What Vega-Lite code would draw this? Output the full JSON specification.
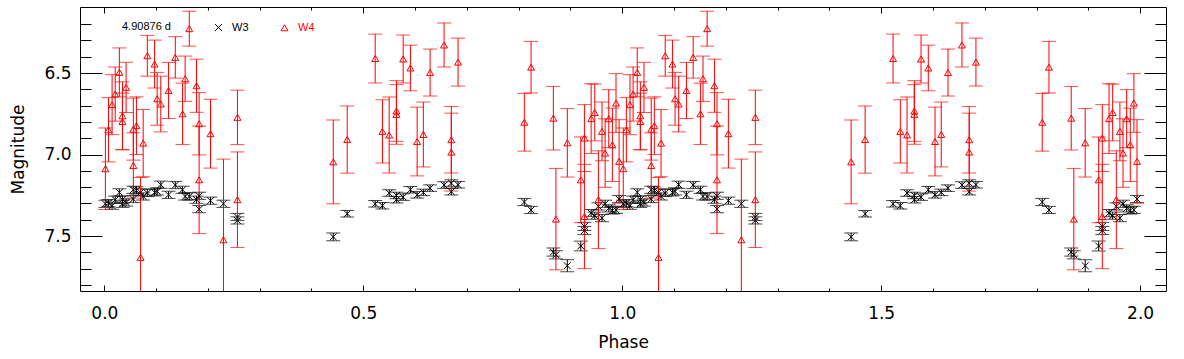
{
"$schema":"https://vega.github.io/schema/vega-lite/v6.json",
"autosize":{"type":"none"},
"padding":{"left":80,"top":7,"right":18,"bottom":68},
"width":1086,"height":284,
"background":"white",
"config":{"view":{"stroke":"black","strokeWidth":1},"font":"DejaVu Sans"},
"data":{"values":[
{"p":0.002,"m":7.302,"e":0.022,"b":"W3"},{"p":0.008,"m":7.298,"e":0.022,"b":"W3"},{"p":0.015,"m":7.314,"e":0.022,"b":"W3"},{"p":0.021,"m":7.277,"e":0.022,"b":"W3"},{"p":0.029,"m":7.232,"e":0.022,"b":"W3"},{"p":0.035,"m":7.277,"e":0.022,"b":"W3"},{"p":0.035,"m":7.302,"e":0.022,"b":"W3"},{"p":0.042,"m":7.294,"e":0.022,"b":"W3"},{"p":0.056,"m":7.216,"e":0.022,"b":"W3"},{"p":0.056,"m":7.273,"e":0.022,"b":"W3"},{"p":0.062,"m":7.220,"e":0.022,"b":"W3"},{"p":0.070,"m":7.232,"e":0.022,"b":"W3"},{"p":0.075,"m":7.257,"e":0.022,"b":"W3"},{"p":0.083,"m":7.236,"e":0.022,"b":"W3"},{"p":0.097,"m":7.232,"e":0.022,"b":"W3"},{"p":0.102,"m":7.226,"e":0.022,"b":"W3"},{"p":0.109,"m":7.185,"e":0.022,"b":"W3"},{"p":0.124,"m":7.247,"e":0.022,"b":"W3"},{"p":0.137,"m":7.187,"e":0.022,"b":"W3"},{"p":0.151,"m":7.216,"e":0.022,"b":"W3"},{"p":0.156,"m":7.257,"e":0.022,"b":"W3"},{"p":0.164,"m":7.257,"e":0.022,"b":"W3"},{"p":0.178,"m":7.277,"e":0.022,"b":"W3"},{"p":0.183,"m":7.253,"e":0.022,"b":"W3"},{"p":0.183,"m":7.335,"e":0.022,"b":"W3"},{"p":0.205,"m":7.283,"e":0.022,"b":"W3"},{"p":0.230,"m":7.302,"e":0.022,"b":"W3"},{"p":0.257,"m":7.383,"e":0.022,"b":"W3"},{"p":0.257,"m":7.404,"e":0.022,"b":"W3"},
{"p":0.442,"m":7.505,"e":0.024,"b":"W3"},{"p":0.469,"m":7.363,"e":0.020,"b":"W3"},{"p":0.523,"m":7.302,"e":0.020,"b":"W3"},{"p":0.537,"m":7.314,"e":0.020,"b":"W3"},{"p":0.550,"m":7.236,"e":0.020,"b":"W3"},{"p":0.564,"m":7.251,"e":0.020,"b":"W3"},{"p":0.564,"m":7.277,"e":0.020,"b":"W3"},{"p":0.577,"m":7.261,"e":0.020,"b":"W3"},{"p":0.591,"m":7.216,"e":0.020,"b":"W3"},{"p":0.604,"m":7.247,"e":0.020,"b":"W3"},{"p":0.616,"m":7.232,"e":0.020,"b":"W3"},{"p":0.629,"m":7.206,"e":0.020,"b":"W3"},{"p":0.656,"m":7.187,"e":0.020,"b":"W3"},{"p":0.670,"m":7.175,"e":0.020,"b":"W3"},{"p":0.670,"m":7.228,"e":0.020,"b":"W3"},{"p":0.683,"m":7.185,"e":0.020,"b":"W3"},
{"p":0.811,"m":7.291,"e":0.022,"b":"W3"},{"p":0.824,"m":7.340,"e":0.022,"b":"W3"},{"p":0.867,"m":7.598,"e":0.025,"b":"W3"},{"p":0.872,"m":7.615,"e":0.025,"b":"W3"},{"p":0.894,"m":7.682,"e":0.037,"b":"W3"},{"p":0.920,"m":7.561,"e":0.030,"b":"W3"},{"p":0.927,"m":7.441,"e":0.025,"b":"W3"},{"p":0.927,"m":7.466,"e":0.025,"b":"W3"},{"p":0.940,"m":7.359,"e":0.022,"b":"W3"},{"p":0.947,"m":7.375,"e":0.022,"b":"W3"},{"p":0.954,"m":7.318,"e":0.022,"b":"W3"},{"p":0.961,"m":7.390,"e":0.022,"b":"W3"},{"p":0.967,"m":7.302,"e":0.022,"b":"W3"},{"p":0.974,"m":7.330,"e":0.022,"b":"W3"},{"p":0.981,"m":7.343,"e":0.022,"b":"W3"},{"p":0.988,"m":7.339,"e":0.022,"b":"W3"},{"p":0.994,"m":7.273,"e":0.022,"b":"W3"},
{"p":1.002,"m":7.302,"e":0.022,"b":"W3"},{"p":1.008,"m":7.298,"e":0.022,"b":"W3"},{"p":1.015,"m":7.314,"e":0.022,"b":"W3"},{"p":1.021,"m":7.277,"e":0.022,"b":"W3"},{"p":1.029,"m":7.232,"e":0.022,"b":"W3"},{"p":1.035,"m":7.277,"e":0.022,"b":"W3"},{"p":1.035,"m":7.302,"e":0.022,"b":"W3"},{"p":1.042,"m":7.294,"e":0.022,"b":"W3"},{"p":1.056,"m":7.216,"e":0.022,"b":"W3"},{"p":1.056,"m":7.273,"e":0.022,"b":"W3"},{"p":1.062,"m":7.220,"e":0.022,"b":"W3"},{"p":1.070,"m":7.232,"e":0.022,"b":"W3"},{"p":1.075,"m":7.257,"e":0.022,"b":"W3"},{"p":1.083,"m":7.236,"e":0.022,"b":"W3"},{"p":1.097,"m":7.232,"e":0.022,"b":"W3"},{"p":1.102,"m":7.226,"e":0.022,"b":"W3"},{"p":1.109,"m":7.185,"e":0.022,"b":"W3"},{"p":1.124,"m":7.247,"e":0.022,"b":"W3"},{"p":1.137,"m":7.187,"e":0.022,"b":"W3"},{"p":1.151,"m":7.216,"e":0.022,"b":"W3"},{"p":1.156,"m":7.257,"e":0.022,"b":"W3"},{"p":1.164,"m":7.257,"e":0.022,"b":"W3"},{"p":1.178,"m":7.277,"e":0.022,"b":"W3"},{"p":1.183,"m":7.253,"e":0.022,"b":"W3"},{"p":1.183,"m":7.335,"e":0.022,"b":"W3"},{"p":1.205,"m":7.283,"e":0.022,"b":"W3"},{"p":1.230,"m":7.302,"e":0.022,"b":"W3"},{"p":1.257,"m":7.383,"e":0.022,"b":"W3"},{"p":1.257,"m":7.404,"e":0.022,"b":"W3"},
{"p":1.442,"m":7.505,"e":0.024,"b":"W3"},{"p":1.469,"m":7.363,"e":0.020,"b":"W3"},{"p":1.523,"m":7.302,"e":0.020,"b":"W3"},{"p":1.537,"m":7.314,"e":0.020,"b":"W3"},{"p":1.550,"m":7.236,"e":0.020,"b":"W3"},{"p":1.564,"m":7.251,"e":0.020,"b":"W3"},{"p":1.564,"m":7.277,"e":0.020,"b":"W3"},{"p":1.577,"m":7.261,"e":0.020,"b":"W3"},{"p":1.591,"m":7.216,"e":0.020,"b":"W3"},{"p":1.604,"m":7.247,"e":0.020,"b":"W3"},{"p":1.616,"m":7.232,"e":0.020,"b":"W3"},{"p":1.629,"m":7.206,"e":0.020,"b":"W3"},{"p":1.656,"m":7.187,"e":0.020,"b":"W3"},{"p":1.670,"m":7.175,"e":0.020,"b":"W3"},{"p":1.670,"m":7.228,"e":0.020,"b":"W3"},{"p":1.683,"m":7.185,"e":0.020,"b":"W3"},
{"p":1.811,"m":7.291,"e":0.022,"b":"W3"},{"p":1.824,"m":7.340,"e":0.022,"b":"W3"},{"p":1.867,"m":7.598,"e":0.025,"b":"W3"},{"p":1.872,"m":7.615,"e":0.025,"b":"W3"},{"p":1.894,"m":7.682,"e":0.037,"b":"W3"},{"p":1.920,"m":7.561,"e":0.030,"b":"W3"},{"p":1.927,"m":7.441,"e":0.025,"b":"W3"},{"p":1.927,"m":7.466,"e":0.025,"b":"W3"},{"p":1.940,"m":7.359,"e":0.022,"b":"W3"},{"p":1.947,"m":7.375,"e":0.022,"b":"W3"},{"p":1.954,"m":7.318,"e":0.022,"b":"W3"},{"p":1.961,"m":7.390,"e":0.022,"b":"W3"},{"p":1.967,"m":7.302,"e":0.022,"b":"W3"},{"p":1.974,"m":7.330,"e":0.022,"b":"W3"},{"p":1.981,"m":7.343,"e":0.022,"b":"W3"},{"p":1.988,"m":7.339,"e":0.022,"b":"W3"},{"p":1.994,"m":7.273,"e":0.022,"b":"W3"},
{"p":0.002,"m":7.087,"e":0.250,"b":"W4"},{"p":0.008,"m":6.848,"e":0.197,"b":"W4"},{"p":0.015,"m":6.694,"e":0.184,"b":"W4"},{"p":0.021,"m":6.629,"e":0.166,"b":"W4"},{"p":0.029,"m":6.496,"e":0.150,"b":"W4"},{"p":0.035,"m":6.762,"e":0.208,"b":"W4"},{"p":0.035,"m":6.797,"e":0.174,"b":"W4"},{"p":0.042,"m":6.588,"e":0.154,"b":"W4"},{"p":0.056,"m":6.844,"e":0.190,"b":"W4"},{"p":0.056,"m":7.067,"e":0.200,"b":"W4"},{"p":0.062,"m":6.823,"e":0.177,"b":"W4"},{"p":0.070,"m":7.631,"e":0.490,"b":"W4"},{"p":0.075,"m":6.930,"e":0.206,"b":"W4"},{"p":0.083,"m":6.394,"e":0.125,"b":"W4"},{"p":0.097,"m":6.445,"e":0.147,"b":"W4"},{"p":0.102,"m":6.658,"e":0.162,"b":"W4"},{"p":0.109,"m":6.690,"e":0.171,"b":"W4"},{"p":0.124,"m":6.607,"e":0.172,"b":"W4"},{"p":0.137,"m":6.404,"e":0.127,"b":"W4"},{"p":0.151,"m":6.750,"e":0.188,"b":"W4"},{"p":0.156,"m":6.535,"e":0.139,"b":"W4"},{"p":0.164,"m":6.228,"e":0.107,"b":"W4"},{"p":0.178,"m":6.578,"e":0.163,"b":"W4"},{"p":0.183,"m":6.811,"e":0.191,"b":"W4"},{"p":0.183,"m":7.155,"e":0.330,"b":"W4"},{"p":0.205,"m":6.872,"e":0.211,"b":"W4"},{"p":0.230,"m":7.523,"e":0.495,"b":"W4"},{"p":0.257,"m":6.772,"e":0.167,"b":"W4"},{"p":0.257,"m":7.277,"e":0.293,"b":"W4"},
{"p":0.442,"m":7.045,"e":0.257,"b":"W4"},{"p":0.469,"m":6.908,"e":0.206,"b":"W4"},{"p":0.523,"m":6.411,"e":0.150,"b":"W4"},{"p":0.537,"m":6.858,"e":0.194,"b":"W4"},{"p":0.550,"m":6.880,"e":0.233,"b":"W4"},{"p":0.564,"m":6.733,"e":0.186,"b":"W4"},{"p":0.564,"m":6.754,"e":0.183,"b":"W4"},{"p":0.577,"m":6.414,"e":0.147,"b":"W4"},{"p":0.591,"m":6.469,"e":0.140,"b":"W4"},{"p":0.604,"m":6.920,"e":0.211,"b":"W4"},{"p":0.616,"m":6.877,"e":0.199,"b":"W4"},{"p":0.629,"m":6.497,"e":0.144,"b":"W4"},{"p":0.656,"m":6.328,"e":0.135,"b":"W4"},{"p":0.670,"m":6.909,"e":0.204,"b":"W4"},{"p":0.670,"m":6.985,"e":0.239,"b":"W4"},{"p":0.683,"m":6.433,"e":0.147,"b":"W4"},
{"p":0.811,"m":6.802,"e":0.177,"b":"W4"},{"p":0.824,"m":6.464,"e":0.158,"b":"W4"},{"p":0.867,"m":6.777,"e":0.195,"b":"W4"},{"p":0.872,"m":7.396,"e":0.311,"b":"W4"},{"p":0.894,"m":6.928,"e":0.210,"b":"W4"},{"p":0.920,"m":7.155,"e":0.263,"b":"W4"},{"p":0.927,"m":6.899,"e":0.205,"b":"W4"},{"p":0.927,"m":7.380,"e":0.320,"b":"W4"},{"p":0.940,"m":6.780,"e":0.214,"b":"W4"},{"p":0.947,"m":6.742,"e":0.174,"b":"W4"},{"p":0.954,"m":7.277,"e":0.300,"b":"W4"},{"p":0.961,"m":6.858,"e":0.180,"b":"W4"},{"p":0.967,"m":6.991,"e":0.210,"b":"W4"},{"p":0.974,"m":6.780,"e":0.178,"b":"W4"},{"p":0.981,"m":6.940,"e":0.225,"b":"W4"},{"p":0.988,"m":6.684,"e":0.180,"b":"W4"},{"p":0.994,"m":7.042,"e":0.256,"b":"W4"},
{"p":1.002,"m":7.087,"e":0.250,"b":"W4"},{"p":1.008,"m":6.848,"e":0.197,"b":"W4"},{"p":1.015,"m":6.694,"e":0.184,"b":"W4"},{"p":1.021,"m":6.629,"e":0.166,"b":"W4"},{"p":1.029,"m":6.496,"e":0.150,"b":"W4"},{"p":1.035,"m":6.762,"e":0.208,"b":"W4"},{"p":1.035,"m":6.797,"e":0.174,"b":"W4"},{"p":1.042,"m":6.588,"e":0.154,"b":"W4"},{"p":1.056,"m":6.844,"e":0.190,"b":"W4"},{"p":1.056,"m":7.067,"e":0.200,"b":"W4"},{"p":1.062,"m":6.823,"e":0.177,"b":"W4"},{"p":1.070,"m":7.631,"e":0.490,"b":"W4"},{"p":1.075,"m":6.930,"e":0.206,"b":"W4"},{"p":1.083,"m":6.394,"e":0.125,"b":"W4"},{"p":1.097,"m":6.445,"e":0.147,"b":"W4"},{"p":1.102,"m":6.658,"e":0.162,"b":"W4"},{"p":1.109,"m":6.690,"e":0.171,"b":"W4"},{"p":1.124,"m":6.607,"e":0.172,"b":"W4"},{"p":1.137,"m":6.404,"e":0.127,"b":"W4"},{"p":1.151,"m":6.750,"e":0.188,"b":"W4"},{"p":1.156,"m":6.535,"e":0.139,"b":"W4"},{"p":1.164,"m":6.228,"e":0.107,"b":"W4"},{"p":1.178,"m":6.578,"e":0.163,"b":"W4"},{"p":1.183,"m":6.811,"e":0.191,"b":"W4"},{"p":1.183,"m":7.155,"e":0.330,"b":"W4"},{"p":1.205,"m":6.872,"e":0.211,"b":"W4"},{"p":1.230,"m":7.523,"e":0.495,"b":"W4"},{"p":1.257,"m":6.772,"e":0.167,"b":"W4"},{"p":1.257,"m":7.277,"e":0.293,"b":"W4"},
{"p":1.442,"m":7.045,"e":0.257,"b":"W4"},{"p":1.469,"m":6.908,"e":0.206,"b":"W4"},{"p":1.523,"m":6.411,"e":0.150,"b":"W4"},{"p":1.537,"m":6.858,"e":0.194,"b":"W4"},{"p":1.550,"m":6.880,"e":0.233,"b":"W4"},{"p":1.564,"m":6.733,"e":0.186,"b":"W4"},{"p":1.564,"m":6.754,"e":0.183,"b":"W4"},{"p":1.577,"m":6.414,"e":0.147,"b":"W4"},{"p":1.591,"m":6.469,"e":0.140,"b":"W4"},{"p":1.604,"m":6.920,"e":0.211,"b":"W4"},{"p":1.616,"m":6.877,"e":0.199,"b":"W4"},{"p":1.629,"m":6.497,"e":0.144,"b":"W4"},{"p":1.656,"m":6.328,"e":0.135,"b":"W4"},{"p":1.670,"m":6.909,"e":0.204,"b":"W4"},{"p":1.670,"m":6.985,"e":0.239,"b":"W4"},{"p":1.683,"m":6.433,"e":0.147,"b":"W4"},
{"p":1.811,"m":6.802,"e":0.177,"b":"W4"},{"p":1.824,"m":6.464,"e":0.158,"b":"W4"},{"p":1.867,"m":6.777,"e":0.195,"b":"W4"},{"p":1.872,"m":7.396,"e":0.311,"b":"W4"},{"p":1.894,"m":6.928,"e":0.210,"b":"W4"},{"p":1.920,"m":7.155,"e":0.263,"b":"W4"},{"p":1.927,"m":6.899,"e":0.205,"b":"W4"},{"p":1.927,"m":7.380,"e":0.320,"b":"W4"},{"p":1.940,"m":6.780,"e":0.214,"b":"W4"},{"p":1.947,"m":6.742,"e":0.174,"b":"W4"},{"p":1.954,"m":7.277,"e":0.300,"b":"W4"},{"p":1.961,"m":6.858,"e":0.180,"b":"W4"},{"p":1.967,"m":6.991,"e":0.210,"b":"W4"},{"p":1.974,"m":6.780,"e":0.178,"b":"W4"},{"p":1.981,"m":6.940,"e":0.225,"b":"W4"},{"p":1.988,"m":6.684,"e":0.180,"b":"W4"},{"p":1.994,"m":7.042,"e":0.256,"b":"W4"}
]},
"resolve":{"axis":{"x":"independent","y":"independent"},"legend":{"color":"independent","shape":"independent"}},
"layer":[
{"mark":{"type":"errorbar","ticks":{"size":14},"clip":true,"thickness":1},
 "encoding":{
  "x":{"field":"p","type":"quantitative","scale":{"domain":[-0.047,2.05],"nice":false,"zero":false},
   "axis":{"orient":"bottom","title":"Phase","values":[0,0.1,0.2,0.3,0.4,0.5,0.6,0.7,0.8,0.9,1,1.1,1.2,1.3,1.4,1.5,1.6,1.7,1.8,1.9,2],
    "labelExpr":"abs(datum.value*2-round(datum.value*2))<0.01 ? format(datum.value,'.1f') : ''",
    "tickSize":{"condition":{"test":"abs(datum.value*2-round(datum.value*2))<0.01","value":-6},"value":-3},
    "tickColor":"black","domain":false,"grid":false,"labelOverlap":false,"labelFlush":false,
    "labelFont":"DejaVu Sans","labelFontSize":17,"labelColor":"black","labelPadding":20,
    "titleFont":"DejaVu Sans","titleFontSize":17,"titleFontWeight":"normal","titleColor":"black","titlePadding":10}},
  "y":{"field":"m","type":"quantitative","scale":{"domain":[6.095,7.837],"reverse":true,"nice":false,"zero":false},
   "axis":{"orient":"left","title":"Magnitude","values":[6.2,6.3,6.4,6.5,6.6,6.7,6.8,6.9,7.0,7.1,7.2,7.3,7.4,7.5,7.6,7.7,7.8],
    "labelExpr":"abs(datum.value*2-round(datum.value*2))<0.01 ? format(datum.value,'.1f') : ''",
    "tickSize":{"condition":{"test":"abs(datum.value*2-round(datum.value*2))<0.01","value":-22},"value":-11},
    "tickColor":"black","domain":false,"grid":false,"labelOverlap":false,"labelFlush":false,
    "labelFont":"DejaVu Sans","labelFontSize":17,"labelColor":"black","labelPadding":31,"labelBaseline":"middle",
    "titleFont":"DejaVu Sans","titleFontSize":17,"titleFontWeight":"normal","titleColor":"black","titlePadding":16}},
  "yError":{"field":"e"},
  "color":{"field":"b","type":"nominal","scale":{"domain":["W3","W4"],"range":["#000000","#ff0000"]},"legend":null}
 }},
{"mark":{"type":"point","filled":false,"size":48,"strokeWidth":1,"opacity":1,"clip":true},
 "encoding":{
  "x":{"field":"p","type":"quantitative","scale":{"domain":[-0.047,2.05],"nice":false,"zero":false},
   "axis":{"orient":"top","title":null,"labels":false,"domain":false,"grid":false,"tickColor":"black","values":[0,0.1,0.2,0.3,0.4,0.5,0.6,0.7,0.8,0.9,1,1.1,1.2,1.3,1.4,1.5,1.6,1.7,1.8,1.9,2],
    "tickSize":{"condition":{"test":"abs(datum.value*2-round(datum.value*2))<0.01","value":-6},"value":-3}}},
  "y":{"field":"m","type":"quantitative","scale":{"domain":[6.095,7.837],"reverse":true,"nice":false,"zero":false},
   "axis":{"orient":"right","title":null,"labels":false,"domain":false,"grid":false,"tickColor":"black","values":[6.2,6.3,6.4,6.5,6.6,6.7,6.8,6.9,7.0,7.1,7.2,7.3,7.4,7.5,7.6,7.7,7.8],
    "tickSize":{"condition":{"test":"abs(datum.value*2-round(datum.value*2))<0.01","value":-22},"value":-11}}},
  "color":{"field":"b","type":"nominal","scale":{"domain":["W3","W4"],"range":["#000000","#ff0000"]},
   "legend":{"orient":"none","legendX":42,"legendY":15,"direction":"horizontal","title":"4.90876 d","titleOrient":"left","titlePadding":42,
    "titleFont":"Liberation Sans","titleFontSize":11,"titleFontWeight":"normal","titleColor":"black","titleBaseline":"middle",
    "labelFont":"Liberation Sans","labelFontSize":11,"labelColor":{"expr":"datum.value=='W4' ? '#ff0000' : '#000000'"},"labelOffset":8,
    "columnPadding":30,"symbolSize":48,"symbolStrokeWidth":1,"symbolFillColor":"transparent","padding":0}},
  "shape":{"field":"b","type":"nominal","scale":{"domain":["W3","W4"],"range":["M-1,-1L1,1M-1,1L1,-1","triangle-up"]}}
 }}
]
}
